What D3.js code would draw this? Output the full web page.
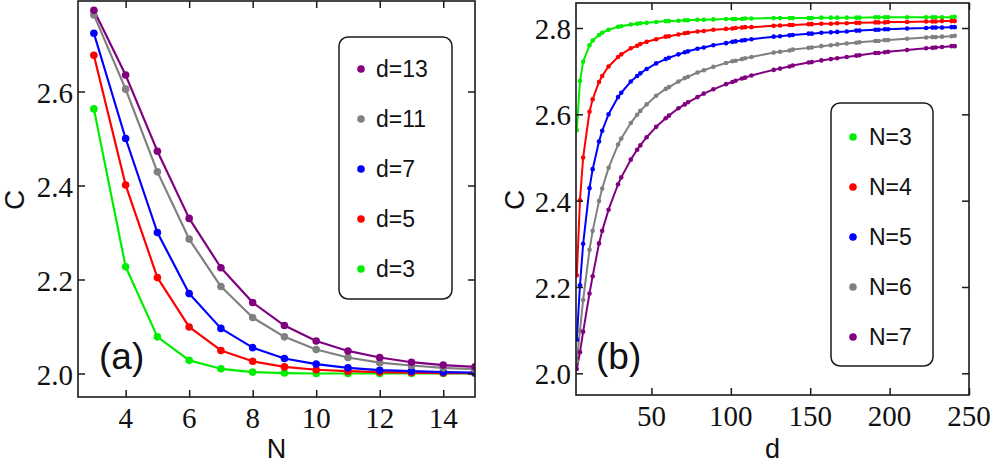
<!DOCTYPE html>
<html>
<head>
<meta charset="utf-8">
<script src="https://cdn.jsdelivr.net/npm/d3@7"></script>
<style>
  html, body { margin: 0; padding: 0; background: #fff; }
  svg { display: block; }
</style>
</head>
<body>
<svg id="chart" width="992" height="463"></svg>
<script>
// ---------- Panel (a) data ----------
const N_left = [3,4,5,6,7,8,9,10,11,12,13,14,15];
const C_d3  = [2.563,2.227,2.078,2.028,2.010,2.003,2.001,2.000,2.000,2.000,2.000,2.000,2.000];
const C_d5  = [2.677,2.401,2.204,2.099,2.049,2.026,2.014,2.008,2.005,2.003,2.002,2.001,2.001];
const C_d7  = [2.724,2.500,2.300,2.170,2.096,2.055,2.032,2.020,2.012,2.007,2.005,2.003,2.002];
const C_d11 = [2.763,2.605,2.429,2.286,2.185,2.119,2.078,2.051,2.034,2.023,2.017,2.012,2.009];
const C_d13 = [2.773,2.635,2.473,2.330,2.225,2.151,2.102,2.069,2.048,2.034,2.024,2.018,2.014];
const leftLabels = ["d=3","d=5","d=7","d=11","d=13"];
const leftXTicks = [4,6,8,10,12,14];
const leftYTicks = [2.0,2.2,2.4,2.6];

// ---------- Panel (b) data ----------
const d_right = [3,5,7,11,13,17,19,23,29,31,37,41,43,47,53,59,61,67,71,73,79,83,89,97,101,
  103,107,109,113,127,131,137,139,149,151,157,163,167,173,179,181,191,193,197,199,211,223,227,229,233,239,241];
const C_N3 = [2.563,2.677,2.722,2.760,2.771, 2.784,2.789,2.796,2.803,2.804, 2.808,2.810,2.811,2.812,2.814,
  2.816,2.816,2.817,2.818,2.818, 2.819,2.819,2.820,2.821,2.821, 2.821,2.821,2.822,2.822,2.823,
  2.823,2.823,2.823,2.823,2.823, 2.824,2.824,2.824,2.824,2.824, 2.824,2.825,2.825,2.825,2.825,
  2.825,2.825,2.825,2.825,2.825, 2.825,2.826];
const C_N4 = [2.227,2.401,2.500,2.606,2.635, 2.675,2.689,2.711,2.733,2.739, 2.753,2.759,2.763,2.768,2.774,
  2.780,2.781,2.785,2.788,2.789, 2.792,2.793,2.796,2.798,2.799, 2.800,2.801,2.802,2.802,2.805,
  2.806,2.807,2.807,2.809,2.809, 2.810,2.810,2.811,2.811,2.812, 2.812,2.813,2.813,2.813,2.814,
  2.814,2.815,2.815,2.815,2.816, 2.816,2.816];
const C_N5 = [2.078,2.204,2.300,2.429,2.473, 2.537,2.562,2.600,2.640,2.650, 2.676,2.689,2.695,2.705,2.718,
  2.728,2.731,2.739,2.744,2.746, 2.752,2.755,2.760,2.765,2.768, 2.769,2.771,2.772,2.774,2.780,
  2.781,2.783,2.784,2.787,2.787, 2.789,2.790,2.791,2.792,2.794, 2.794,2.796,2.796,2.797,2.797,
  2.799,2.800,2.801,2.801,2.801, 2.802,2.802];
const C_N6 = [2.028,2.099,2.170,2.286,2.330, 2.399,2.428,2.476,2.530,2.544, 2.580,2.599,2.608,2.623,2.643,
  2.659,2.663,2.676,2.684,2.687, 2.697,2.702,2.710,2.719,2.723, 2.724,2.728,2.730,2.733,2.743,
  2.745,2.748,2.750,2.754,2.755, 2.758,2.760,2.762,2.764,2.766, 2.767,2.770,2.770,2.772,2.772,
  2.775,2.778,2.779,2.779,2.780, 2.781,2.782];
const C_N7 = [2.010,2.049,2.096,2.185,2.225, 2.301,2.330,2.379,2.438,2.454, 2.495,2.518,2.528,2.547,2.571,
  2.591,2.597,2.614,2.623,2.628, 2.640,2.648,2.658,2.670,2.675, 2.678,2.683,2.685,2.690,2.703,
  2.706,2.711,2.713,2.720,2.721, 2.725,2.728,2.730,2.733,2.736, 2.737,2.742,2.742,2.744,2.745,
  2.749,2.753,2.754,2.755,2.756, 2.758,2.758];
const rightLabels = ["N=3","N=4","N=5","N=6","N=7"];
const rightXTicks = [50,100,150,200,250];
const rightYTicks = [2.0,2.2,2.4,2.6,2.8];

const colors = ["#00ee00","#ff0000","#0000ff","#808080","#800080"];

const svg = d3.select("#chart");
const SERIF = '"Liberation Serif"';
const SANS = '"Liberation Sans"';
const fmtX = d3.format("d");
const fmtY = d3.format(".1f");

function finishAxis(ax) {
  ax.select(".domain").remove();
  ax.selectAll(".tick line").attr("stroke","#1a1a1a").attr("stroke-width",1.5);
}

function panel(opts) {
  const {x0,x1,y0,y1,xDomain,yDomain,xTicks,yTicks,series,xs,labels,order,
         r,lw,legend,panelLabel,xTitle,yTitle,yTitleX} = opts;
  const x = d3.scaleLinear().domain(xDomain).range([x0,x1]);
  const y = d3.scaleLinear().domain(yDomain).range([y1,y0]);
  const g = svg.append("g");

  const clipId = "clip" + Math.round(x0);
  svg.append("clipPath").attr("id", clipId)
    .append("rect").attr("x", x0).attr("y", y0).attr("width", x1-x0).attr("height", y1-y0);

  const plot = g.append("g").attr("clip-path", `url(#${clipId})`);
  const line = d3.line().x((d,i)=>x(xs[i])).y(d=>y(d));
  series.forEach((s, k) => {
    plot.append("path").datum(s).attr("d", line)
      .attr("fill","none").attr("stroke", colors[k]).attr("stroke-width", lw)
      .attr("stroke-linejoin","round");
  });
  series.forEach((s, k) => {
    plot.selectAll(null).data(s).enter().append("circle")
      .attr("cx",(d,i)=>x(xs[i])).attr("cy", d=>y(d)).attr("r", r)
      .attr("fill", colors[k]);
  });

  // inward ticks on all four sides
  const tk = 7;
  const axB = g.append("g").attr("transform",`translate(0,${y1})`);
  axB.call(d3.axisBottom(x).tickValues(xTicks).tickSize(-tk).tickFormat(""));
  finishAxis(axB);
  const axT = g.append("g").attr("transform",`translate(0,${y0})`);
  axT.call(d3.axisTop(x).tickValues(xTicks).tickSize(-tk).tickFormat(""));
  finishAxis(axT);
  const axL = g.append("g").attr("transform",`translate(${x0},0)`);
  axL.call(d3.axisLeft(y).tickValues(yTicks).tickSize(-tk).tickFormat(""));
  finishAxis(axL);
  const axR = g.append("g").attr("transform",`translate(${x1},0)`);
  axR.call(d3.axisRight(y).tickValues(yTicks).tickSize(-tk).tickFormat(""));
  finishAxis(axR);

  // tick labels (serif), placed with the same scales
  g.selectAll(null).data(xTicks).enter().append("text")
    .attr("x", d => x(d)).attr("y", y1 + 31).attr("text-anchor","middle")
    .style("font-family", SERIF).style("font-size","29px").attr("fill","#111")
    .text(d => fmtX(d));
  g.selectAll(null).data(yTicks).enter().append("text")
    .attr("x", x0 - 5).attr("y", d => y(d)).attr("dy","0.38em").attr("text-anchor","end")
    .style("font-family", SERIF).style("font-size","29px").attr("fill","#111")
    .text(d => fmtY(d));

  g.append("rect").attr("x",x0).attr("y",y0).attr("width",x1-x0).attr("height",y1-y0)
    .attr("fill","none").attr("stroke","#1a1a1a").attr("stroke-width",1.6);

  // legend
  const L = legend;
  g.append("rect").attr("x",L.x).attr("y",L.y).attr("width",L.w).attr("height",L.h)
    .attr("rx",9).attr("ry",9).attr("fill","#fff").attr("stroke","#1a1a1a").attr("stroke-width",1.5);
  order.forEach((k, j) => {
    const cy = L.firstY + j*L.step;
    g.append("circle").attr("cx",L.dotX).attr("cy",cy).attr("r",3.8).attr("fill",colors[k]);
    g.append("text").attr("x",L.textX).attr("y",cy).attr("dy","0.36em")
      .style("font-family",SANS).style("font-size","23px").attr("fill","#111").text(labels[k]);
  });

  g.append("text").attr("x",panelLabel.x).attr("y",panelLabel.y)
    .style("font-family",SANS).style("font-size","37px").attr("fill","#111").text(panelLabel.t);

  g.append("text").attr("x",(x0+x1)/2).attr("y",458)
    .attr("text-anchor","middle").style("font-family",SANS).style("font-size","27px").attr("fill","#111").text(xTitle);
  g.append("text").attr("transform",`translate(${yTitleX},${200}) rotate(-90)`)
    .attr("text-anchor","middle").attr("dy","0.36em")
    .style("font-family",SANS).style("font-size","28px").attr("fill","#111").text(yTitle);
}

panel({
  x0:78, x1:475, y0:1, y1:397,
  xDomain:[2.5,15], yDomain:[1.95, 1.95 + 396/470],
  xTicks:leftXTicks, yTicks:leftYTicks,
  series:[C_d3,C_d5,C_d7,C_d11,C_d13], xs:N_left, labels:leftLabels, order:[4,3,2,1,0],
  r:3.8, lw:2.2,
  legend:{x:339,y:37,w:113,h:262,dotX:361,textX:376,firstY:69,step:50},
  panelLabel:{x:99,y:369,t:"(a)"},
  xTitle:"N", yTitle:"C", yTitleX:14
});

panel({
  x0:576, x1:969, y0:3, y1:395,
  xDomain:[2.5,250], yDomain:[2.0 - 21.7/431.6, 2.0 + 370.3/431.6],
  xTicks:rightXTicks, yTicks:rightYTicks,
  series:[C_N3,C_N4,C_N5,C_N6,C_N7], xs:d_right, labels:rightLabels, order:[0,1,2,3,4],
  r:2.3, lw:2,
  legend:{x:831,y:103,w:102,h:263,dotX:853,textX:869,firstY:137,step:50},
  panelLabel:{x:596,y:369,t:"(b)"},
  xTitle:"d", yTitle:"C", yTitleX:514
});
</script>
</body>
</html>
